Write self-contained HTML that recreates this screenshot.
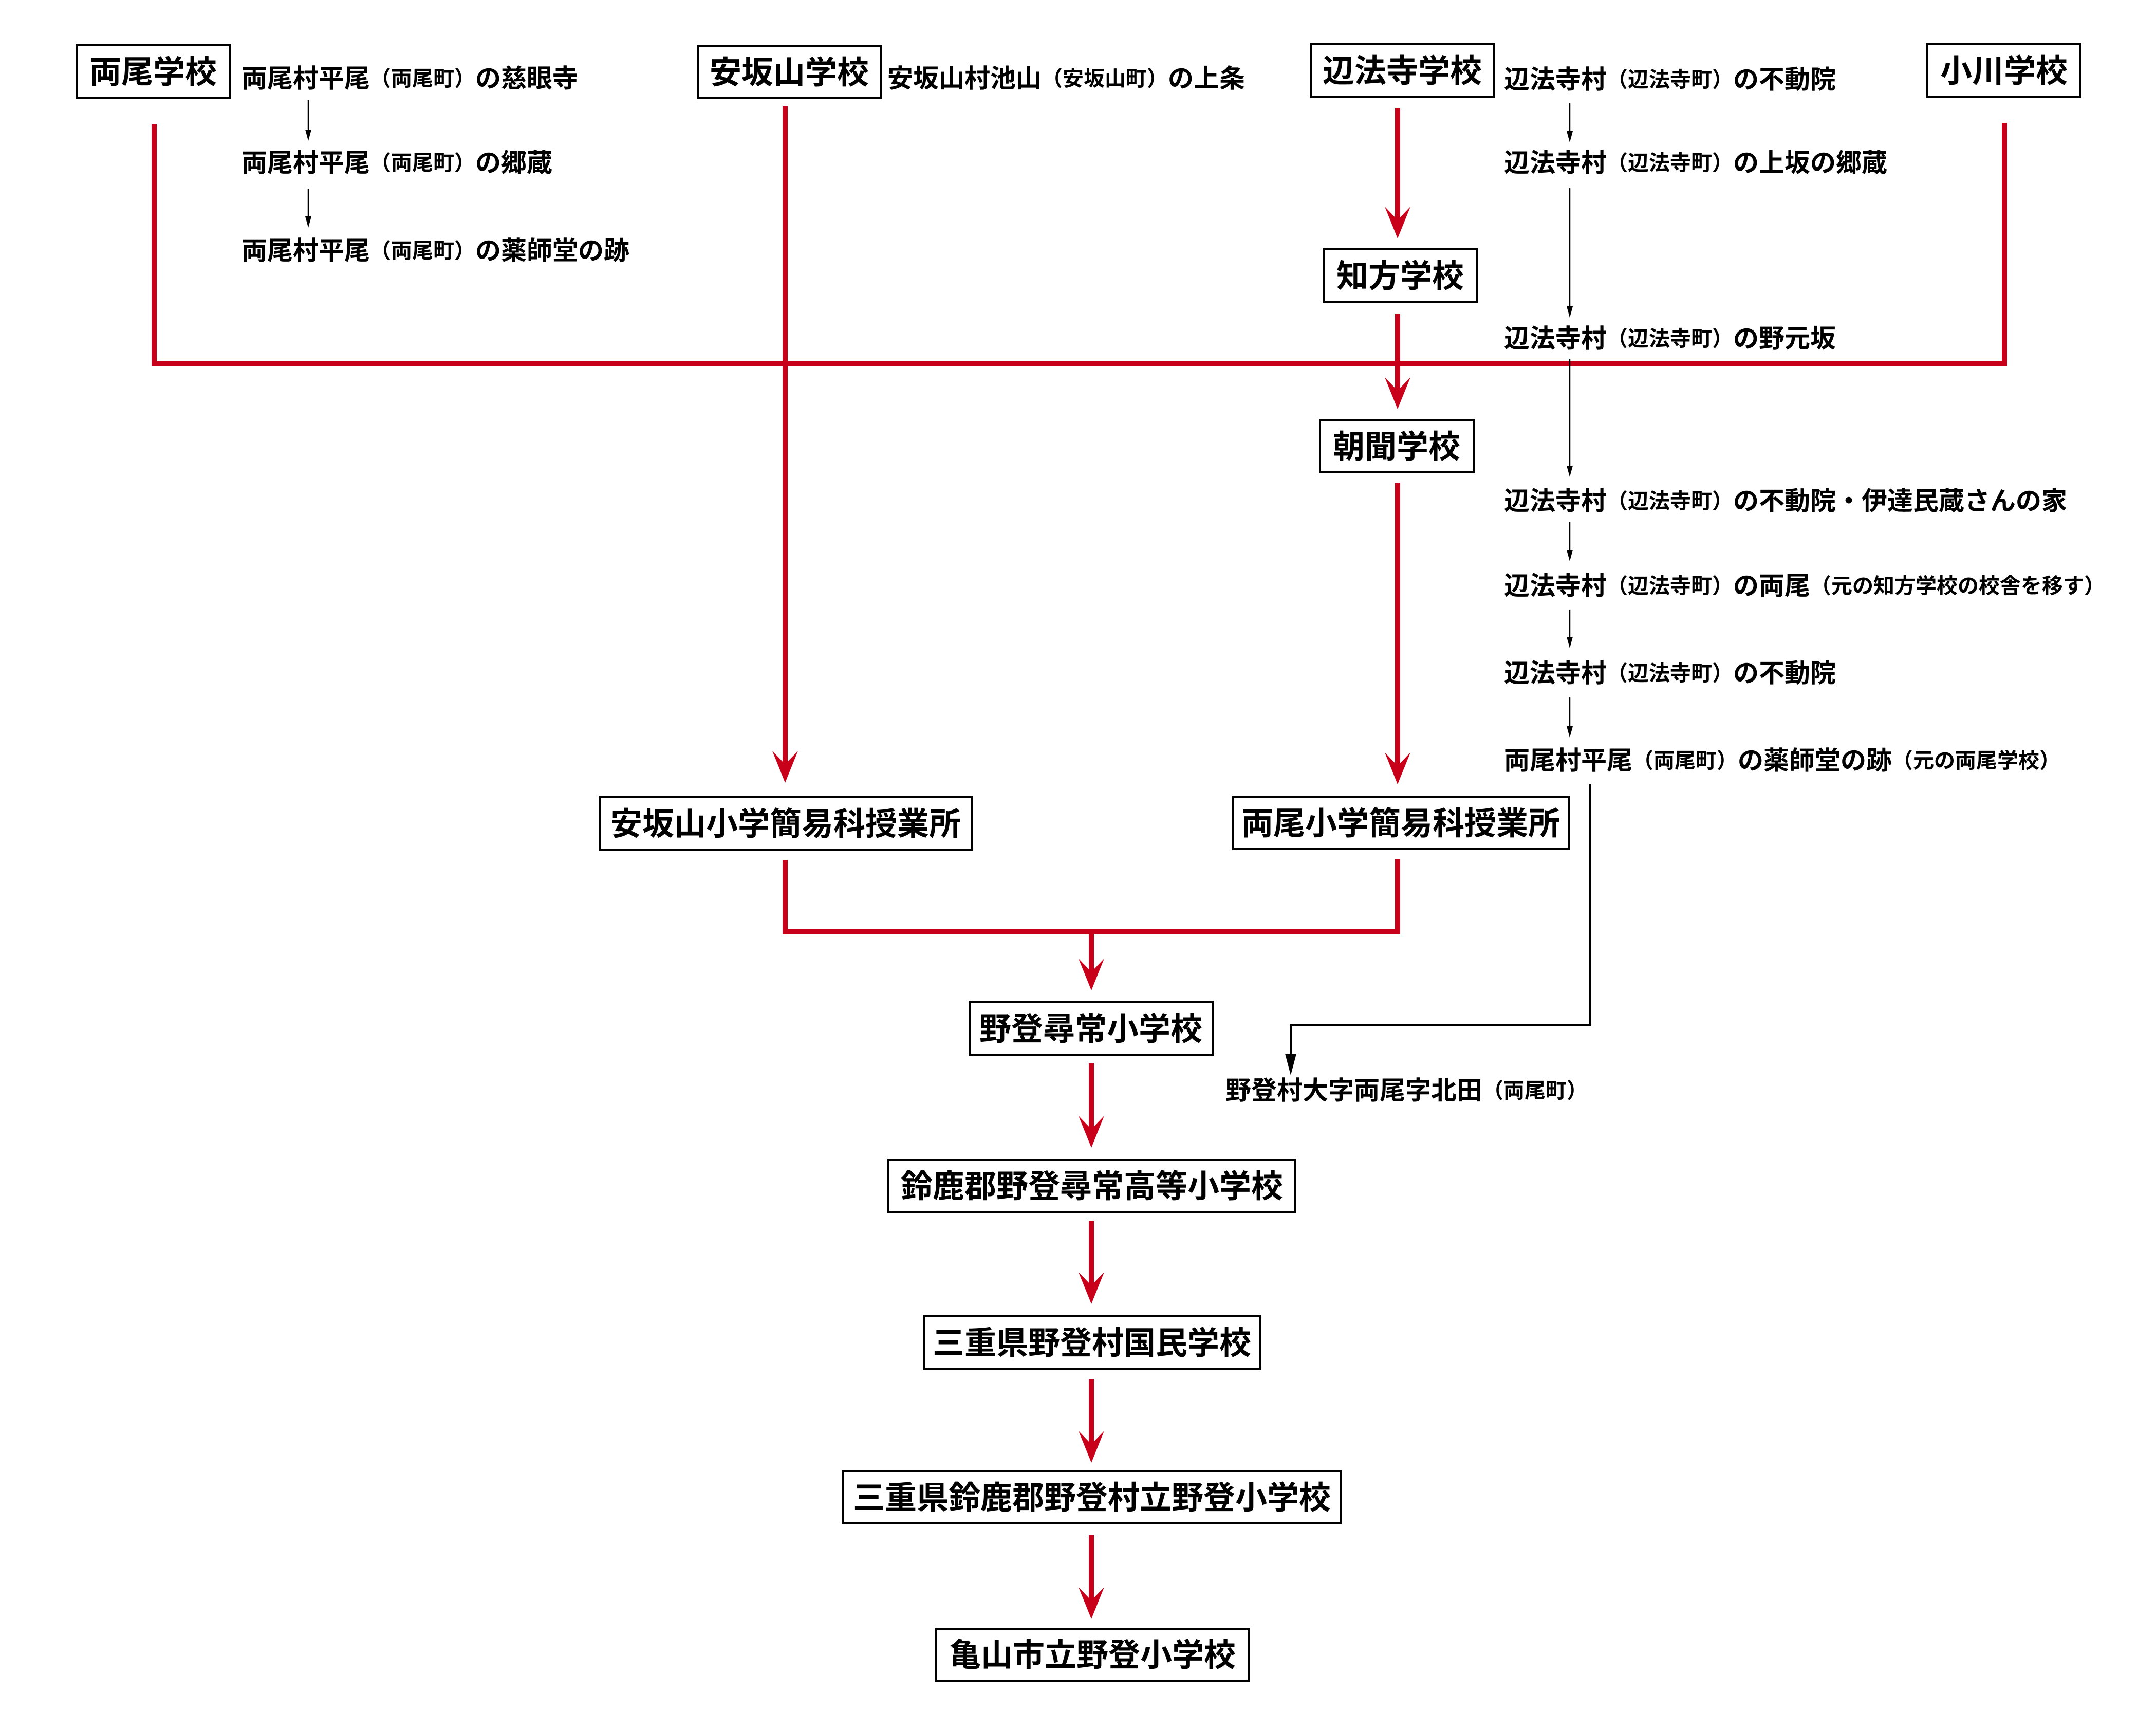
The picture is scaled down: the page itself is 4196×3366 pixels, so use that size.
<!DOCTYPE html>
<html><head><meta charset="utf-8"><style>
html,body{margin:0;padding:0;background:#fff;}
svg{display:block;}
text{font-family:"Liberation Sans","Noto Sans CJK JP",sans-serif;font-weight:700;fill:#000;}
.b{font-size:62px;}
.t{font-size:50px;}
.s{font-size:41px;}
</style></head><body>
<svg width="4196" height="3366" viewBox="0 0 4196 3366" xmlns="http://www.w3.org/2000/svg">
<defs>
<g id="ra"><polygon points="0,0 -25,-62 0,-36 25,-62" fill="#c8001a"/></g>
<g id="ba"><polygon points="0,0 -6,-22 6,-22" fill="#000"/></g>
<g id="bb"><polygon points="0,0 -11,-42 11,-42" fill="#000"/></g>
</defs>

<g stroke="#c8001a" stroke-width="10" fill="none">
<polyline points="300,242 300,707 3901,707 3901,239"/>
<line x1="1528" y1="207" x2="1528" y2="1490"/>
<line x1="2720" y1="210" x2="2720" y2="430"/>
<line x1="2720" y1="610" x2="2720" y2="762"/>
<line x1="2720" y1="940" x2="2720" y2="1492"/>
<polyline points="1528,1673 1528,1813 2720,1813 2720,1672"/>
<line x1="2124" y1="1813" x2="2124" y2="1895"/>
<line x1="2124" y1="2069" x2="2124" y2="2200"/>
<line x1="2124" y1="2375" x2="2124" y2="2504"/>
<line x1="2124" y1="2684" x2="2124" y2="2813"/>
<line x1="2124" y1="2987" x2="2124" y2="3117"/>
</g>
<use href="#ra" x="1528" y="1523"/>
<use href="#ra" x="2720" y="464"/>
<use href="#ra" x="2720" y="796"/>
<use href="#ra" x="2720" y="1526"/>
<use href="#ra" x="2124" y="1927"/>
<use href="#ra" x="2124" y="2233"/>
<use href="#ra" x="2124" y="2537"/>
<use href="#ra" x="2124" y="2846"/>
<use href="#ra" x="2124" y="3150"/>

<g stroke="#000" stroke-width="2.5" fill="none">
<line x1="600" y1="195" x2="600" y2="256"/>
<line x1="600" y1="367" x2="600" y2="425"/>
<line x1="3055" y1="201" x2="3055" y2="259"/>
<line x1="3055" y1="366" x2="3055" y2="600"/>
<line x1="3055" y1="699" x2="3055" y2="910"/>
<line x1="3055" y1="1016" x2="3055" y2="1074"/>
<line x1="3055" y1="1186" x2="3055" y2="1243"/>
<line x1="3055" y1="1357" x2="3055" y2="1417"/>
</g>
<polyline points="3095,1526 3095,1995 2512,1995 2512,2050" stroke="#000" stroke-width="4" fill="none"/>
<use href="#ba" x="600" y="274"/>
<use href="#ba" x="600" y="443"/>
<use href="#ba" x="3055" y="277"/>
<use href="#ba" x="3055" y="618"/>
<use href="#ba" x="3055" y="928"/>
<use href="#ba" x="3055" y="1092"/>
<use href="#ba" x="3055" y="1261"/>
<use href="#ba" x="3055" y="1435"/>
<use href="#bb" x="2512" y="2092"/>

<g fill="#fff" stroke="#000" stroke-width="4">
<rect x="149" y="88" width="298" height="102"/>
<rect x="1358" y="89" width="356" height="102"/>
<rect x="2551" y="86" width="356" height="102"/>
<rect x="3751" y="86" width="298" height="102"/>
<rect x="2576" y="485" width="298" height="102"/>
<rect x="2569" y="817" width="299" height="102"/>
<rect x="1167" y="1550" width="725" height="104"/>
<rect x="2400" y="1551" width="653" height="101"/>
<rect x="1887" y="1949" width="473" height="104"/>
<rect x="1729" y="2257" width="792" height="101"/>
<rect x="1799" y="2561" width="653" height="102"/>
<rect x="1640" y="2862" width="970" height="102"/>
<rect x="1821" y="3169" width="610" height="101"/>
</g>
<g class="b" text-anchor="middle" dominant-baseline="central">
<text x="298" y="141">両尾学校</text>
<text x="1536" y="142">安坂山学校</text>
<text x="2729" y="139">辺法寺学校</text>
<text x="3900" y="139">小川学校</text>
<text x="2725" y="538">知方学校</text>
<text x="2718" y="870">朝聞学校</text>
<text x="1529" y="1604">安坂山小学簡易科授業所</text>
<text x="2726" y="1603">両尾小学簡易科授業所</text>
<text x="2123" y="2003">野登尋常小学校</text>
<text x="2125" y="2309">鈴鹿郡野登尋常高等小学校</text>
<text x="2125" y="2614">三重県野登村国民学校</text>
<text x="2125" y="2915">三重県鈴鹿郡野登村立野登小学校</text>
<text x="2126" y="3221">亀山市立野登小学校</text>
</g>

<g class="t" dominant-baseline="central">
<text x="470" y="153">両尾村平尾<tspan class="s">（両尾町）</tspan>の慈眼寺</text>
<text x="470" y="317">両尾村平尾<tspan class="s">（両尾町）</tspan>の郷蔵</text>
<text x="470" y="488">両尾村平尾<tspan class="s">（両尾町）</tspan>の薬師堂の跡</text>
<text x="1727" y="153">安坂山村池山<tspan class="s">（安坂山町）</tspan>の上条</text>
<text x="2927" y="155">辺法寺村<tspan class="s">（辺法寺町）</tspan>の不動院</text>
<text x="2927" y="317">辺法寺村<tspan class="s">（辺法寺町）</tspan>の上坂の郷蔵</text>
<text x="2927" y="659">辺法寺村<tspan class="s">（辺法寺町）</tspan>の野元坂</text>
<text x="2927" y="975">辺法寺村<tspan class="s">（辺法寺町）</tspan>の不動院・伊達民蔵さんの家</text>
<text x="2927" y="1140">辺法寺村<tspan class="s">（辺法寺町）</tspan>の両尾<tspan class="s">（元の知方学校の校舎を移す）</tspan></text>
<text x="2927" y="1310">辺法寺村<tspan class="s">（辺法寺町）</tspan>の不動院</text>
<text x="2927" y="1480">両尾村平尾<tspan class="s">（両尾町）</tspan>の薬師堂の跡<tspan class="s">（元の両尾学校）</tspan></text>
<text x="2385" y="2122">野登村大字両尾字北田<tspan class="s">（両尾町）</tspan></text>
</g>
</svg>
</body></html>
